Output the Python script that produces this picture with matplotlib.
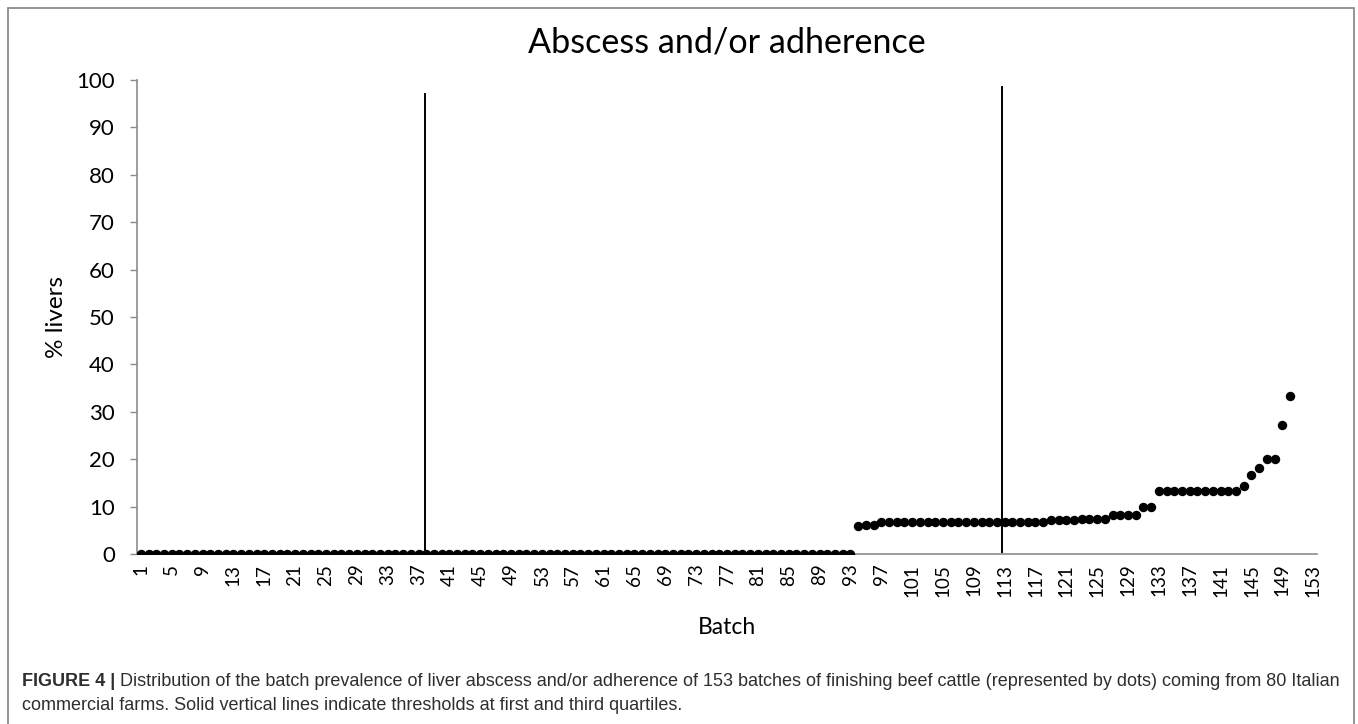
import matplotlib
matplotlib.use("Agg")
import matplotlib.pyplot as plt
from matplotlib.patches import Rectangle

# ---- data ----
n_categories = 153
batch_categories = list(range(1, n_categories + 1))
tick_batches = batch_categories[::4]

zero_batches = [
    0, 0, 0, 0, 0, 0, 0, 0, 0, 0, 0, 0, 0, 0, 0, 0, 0, 0, 0, 0,
    0, 0, 0, 0, 0, 0, 0, 0, 0, 0, 0, 0, 0, 0, 0, 0, 0, 0, 0, 0,
    0, 0, 0, 0, 0, 0, 0, 0, 0, 0, 0, 0, 0, 0, 0, 0, 0, 0, 0, 0,
    0, 0, 0, 0, 0, 0, 0, 0, 0, 0, 0, 0, 0, 0, 0, 0, 0, 0, 0, 0,
    0, 0, 0, 0, 0, 0, 0, 0, 0, 0, 0, 0, 0,
]
positive_batches = [
    5.9, 6.1, 6.2,
    6.7, 6.7, 6.7, 6.7, 6.7, 6.7, 6.7, 6.7, 6.7, 6.7, 6.7,
    6.7, 6.7, 6.7, 6.7, 6.7, 6.7, 6.7, 6.7, 6.7, 6.7, 6.7,
    7.1, 7.1, 7.1, 7.1,
    7.4, 7.4, 7.4, 7.4,
    8.3, 8.3, 8.3, 8.3,
    10.0, 10.0,
    13.3, 13.3, 13.3, 13.3, 13.3, 13.3, 13.3, 13.3, 13.3, 13.3, 13.3,
    14.3, 16.7, 18.2, 20.0, 20.0, 27.3, 33.3,
]
prevalence = zero_batches + positive_batches
batch_index = batch_categories[:len(prevalence)]

quartile_lines = [37.9, 112.6]
quartile_tops = [97.0, 98.5]
quartile_bottoms = [0.0, 0.5]

title = "Abscess and/or adherence"
ylabel = "% livers"
xlabel = "Batch"
caption_bold = "FIGURE 4 |"
caption_line1 = (" Distribution of the batch prevalence of liver abscess and/or adherence of 153 "
                 "batches of finishing beef cattle (represented by dots) coming from 80 Italian")
caption_line2 = "commercial farms. Solid vertical lines indicate thresholds at first and third quartiles."

# ---- figure ----
W, H = 1358, 724
fig = plt.figure(figsize=(W / 100, H / 100), dpi=100)
chart_font = ["Lato", "DejaVu Sans"]

# outer frame
fig.patches.append(Rectangle((8 / W, -0.05), (1354 - 8) / W, 1.05 - 8 / H,
                             transform=fig.transFigure, fill=False,
                             edgecolor="#8c8c8c", linewidth=1.3))

ax = fig.add_axes([137 / W, 1 - 554 / H, (1317 - 137) / W, (554 - 80) / H])
ax.scatter(batch_index, prevalence, s=46, color="black", zorder=3, linewidths=0)
for xq, yb, yt in zip(quartile_lines, quartile_bottoms, quartile_tops):
    ax.plot([xq, xq], [yb, yt], color="black", linewidth=1.4, zorder=2)

ax.set_xlim(0.5, n_categories + 0.5)
ax.set_ylim(0, 100)
ax.set_yticks(range(0, 101, 10))
ax.set_xticks(tick_batches)
ax.set_xticklabels([str(b) for b in tick_batches], rotation=90, fontsize=13.5,
                   family=chart_font)
for lbl in ax.get_yticklabels():
    lbl.set_family(chart_font)
ax.tick_params(axis="y", labelsize=16, length=5, width=1, color="#8c8c8c", pad=11)
ax.tick_params(axis="x", length=0, pad=7)
for s in ["top", "right"]:
    ax.spines[s].set_visible(False)
for s in ["left", "bottom"]:
    ax.spines[s].set_color("#8c8c8c")
    ax.spines[s].set_linewidth(1.2)
ax.spines["bottom"].set_zorder(1)

fig.text(727 / W, 1 - 42 / H, title, ha="center", va="center", fontsize=24.6, family=chart_font)
fig.text(57 / W, 1 - 317 / H, ylabel, ha="center", va="center", rotation=90, fontsize=17.5,
         family=chart_font)
fig.text(727 / W, 1 - 628 / H, xlabel, ha="center", va="center", fontsize=16.5, family=chart_font)

cap_font = ["Liberation Sans", "DejaVu Sans"]
cap_color = "#2e2e2e"
cap_size = 13
tb = fig.text(22 / W, 1 - 681 / H, caption_bold, ha="left", va="center", fontsize=cap_size,
              fontweight="bold", family=cap_font, color=cap_color)
fig.canvas.draw()
bb = tb.get_window_extent()
fig.text(bb.x1 / W, 1 - 681 / H, caption_line1, ha="left", va="center", fontsize=cap_size,
         family=cap_font, color=cap_color)
fig.text(22 / W, 1 - 706 / H, caption_line2, ha="left", va="center", fontsize=cap_size,
         family=cap_font, color=cap_color)

fig.savefig("out.png", dpi=100)
